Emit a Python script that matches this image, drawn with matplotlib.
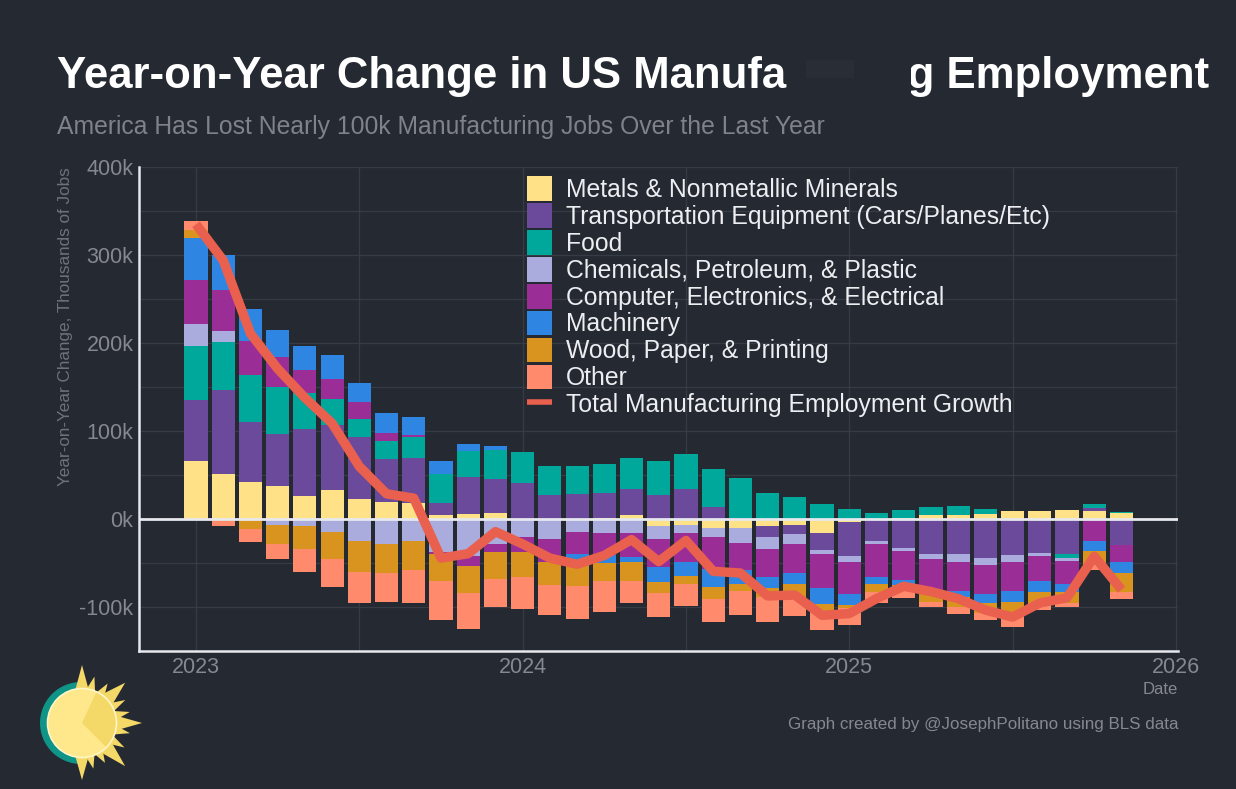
import matplotlib
matplotlib.use("Agg")
import matplotlib.pyplot as plt
import numpy as np
from matplotlib.patches import Patch, Circle, Polygon, Rectangle, Wedge
from matplotlib.lines import Line2D

plt.rcParams['font.family'] = ['Liberation Sans', 'DejaVu Sans']

W, H = 1236, 789
BG = '#252931'
GRID = '#373b43'
AXW = '#e6e8ee'
GRAY = '#85888e'
DIM = '#6f7278'

months = list(range(35))  # months since Jan 2023
year_ticks = [0, 12, 24, 36]
year_labels = ['2023', '2024', '2025', '2026']
y_ticks = [-100, 0, 100, 200, 300, 400]
y_labels = ['-100k', '0k', '100k', '200k', '300k', '400k']

metals = [66,52,42,38,27,33,23,20,18,5,6,7,0,0,0,2,5,-8,-7,-10,-10,-8,-7,-15,-3,0,2,5,5,6,9,9,11,9,7]
transport = [69,95,68,59,75,74,71,48,52,13,42,39,41,28,29,28,29,28,34,14,2,-12,-10,-20,-39,-25,-33,-39,-39,-44,-41,-38,-39,4,-29]
food = [62,54,54,53,41,30,20,21,23,34,30,33,35,33,32,33,36,38,40,43,45,30,25,17,12,7,9,9,10,6,0,0,-5,4,1]
chemicals = [25,13,0,-7,-8,-14,-25,-28,-25,-37,-42,-28,-20,-22,-14,-16,-15,-14,-9,-10,-17,-14,-11,-4,-7,-3,-3,-6,-9,-8,-7,-4,-3,0,0]
computer = [50,46,39,34,27,22,19,9,3,-2,-11,-9,-17,-26,-25,-25,-28,-32,-32,-36,-31,-31,-33,-39,-36,-37,-33,-39,-33,-33,-33,-28,-26,-25,-20]
machinery = [47,40,36,31,27,27,22,23,20,14,7,4,0,0,-7,-9,-6,-17,-16,-21,-15,-13,-12,-18,-12,-8,-6,0,-7,-10,-13,-12,-10,-11,-12]
wood = [9,-2,-11,-21,-26,-31,-35,-33,-33,-31,-31,-31,-28,-27,-30,-20,-21,-13,-9,-13,-8,-10,-15,-8,-4,-9,-5,-10,-11,-11,-16,-13,-12,-16,-21]
other = [11,-6,-15,-17,-26,-32,-35,-33,-37,-44,-40,-32,-37,-34,-37,-35,-25,-27,-25,-27,-28,-29,-22,-22,-19,-13,-9,-6,-8,-8,-12,-8,-5,-5,-8]
total = [335,294,211,171,138,109,60,29,24,-44,-39,-14,-28,-44,-51,-41,-23,-48,-24,-59,-61,-87,-86,-109,-107,-90,-76,-82,-90,-103,-111,-95,-89,-42,-80]

series = [
    ('Metals & Nonmetallic Minerals', metals, '#FFE187'),
    ('Transportation Equipment (Cars/Planes/Etc)', transport, '#6C4A9B'),
    ('Food', food, '#00A89B'),
    ('Chemicals, Petroleum, & Plastic', chemicals, '#A9ACDC'),
    ('Computer, Electronics, & Electrical', computer, '#9A2E96'),
    ('Machinery', machinery, '#2F86E2'),
    ('Wood, Paper, & Printing', wood, '#D9931F'),
    ('Other', other, '#FF8A6C'),
]
line_name = 'Total Manufacturing Employment Growth'
line_color = '#E9604F'

fig = plt.figure(figsize=(W / 100, H / 100), dpi=100, facecolor=BG)
L, R, T, B = 139, 1178, 167, 651
ax = fig.add_axes([L / W, 1 - B / H, (R - L) / W, (B - T) / H], facecolor=BG)
ax.set_xlim((L - 196) / 27.22, (R - 196) / 27.22)
ax.set_ylim(-149.5, 400)

ax.set_axisbelow(True)
ax.set_xticks(year_ticks)
ax.set_xticklabels(year_labels)
ax.set_yticks(y_ticks)
ax.set_yticklabels(y_labels)
ax.set_xticks([6, 18, 30], minor=True)
ax.set_yticks([-50, 50, 150, 250, 350], minor=True)
ax.grid(True, which='both', color=GRID, lw=0.9)
ax.tick_params(which='both', length=0, colors=GRAY, labelsize=15.5, pad=4)
ax.tick_params(axis='x', pad=4)
for s in ['top', 'right']:
    ax.spines[s].set_visible(False)
for s in ['left', 'bottom']:
    ax.spines[s].set_color(AXW)
    ax.spines[s].set_linewidth(1.8)

x = np.array(months)
pos = np.zeros(len(x))
neg = np.zeros(len(x))
for name, vals, col in series:
    v = np.array(vals, float)
    bottom = np.where(v >= 0, pos, neg)
    ax.bar(x, v, 0.85, bottom=bottom, color=col, linewidth=0, zorder=2)
    pos += np.where(v >= 0, v, 0)
    neg += np.where(v < 0, v, 0)

ax.axhline(0, color=AXW, lw=2.0, zorder=3)
ax.plot(x, total, color=line_color, lw=6.8, zorder=4, solid_joinstyle='round',
        solid_capstyle='butt')

handles = [Patch(facecolor=c, edgecolor='none') for _, _, c in series]
handles.append(Line2D([0], [0], color=line_color, lw=4, solid_capstyle='butt'))
labels = [n for n, _, _ in series] + [line_name]
leg = ax.legend(handles, labels, loc='upper left',
                bbox_to_anchor=((527 - L) / (R - L), (B - 176) / (B - T)),
                frameon=False, fontsize=17.8, labelcolor='#eceef2',
                handlelength=1.0, handleheight=1.16, handletextpad=0.57,
                labelspacing=0.05, borderpad=0, borderaxespad=0)

ax.set_ylabel('Year-on-Year Change, Thousands of Jobs', color=DIM, fontsize=12.3)
ax.yaxis.set_label_coords((73 - L) / (R - L), (B - 327) / (B - T))

ov = fig.add_axes([0, 0, 1, 1], facecolor='none', zorder=5)
ov.set_xlim(0, W)
ov.set_ylim(H, 0)
ov.axis('off')

ov.text(57, 76, 'Year-on-Year Change in US Manufacturing Employment', color='#ffffff',
        fontsize=31.5, fontweight='bold', va='center', ha='left')
ov.add_patch(Rectangle((787, 48), 124, 52, facecolor=BG, edgecolor='none', zorder=3))
ov.add_patch(Rectangle((806, 60), 48, 18, facecolor='#292d35', edgecolor='none', zorder=3))
ov.text(57, 127, 'America Has Lost Nearly 100k Manufacturing Jobs Over the Last Year',
        color='#7f8288', fontsize=17.8, va='center', ha='left')
ov.text(1178, 689, 'Date', color=GRAY, fontsize=12, va='center', ha='right')
ov.text(1178, 724, 'Graph created by @JosephPolitano using BLS data', color=GRAY,
        fontsize=12.25, va='center', ha='right')

# Logo
cx, cy = 82, 723
ov.add_patch(Wedge((cx - 1, cy), 41, 90, 270, facecolor='#0F9488', edgecolor='none', zorder=2))
spikes = [(0, 58, 7), (15, 48, 5), (33, 47, 5), (47, 59, 8), (62, 49, 5), (77, 49, 5),
          (90, 60, 8), (102, 49, 5), (120, 49, 5), (135, 61, 8), (150, 46, 5), (166, 47, 5),
          (180, 57, 7)]
for deg, ln, wd in spikes:
    a = np.radians(deg)
    d = np.array([np.sin(a), -np.cos(a)])
    n = np.array([d[1], -d[0]])
    c = np.array([cx, cy])
    ov.add_patch(Polygon([c + d * 32 + n * wd, c + d * ln, c + d * 32 - n * wd],
                         closed=True, facecolor='#F4D868', edgecolor='none', zorder=3))
ov.add_patch(Circle((cx, cy), 34.5, facecolor='#FFE78C', edgecolor='#fff6c8', lw=1.2, zorder=4))
ov.add_patch(Wedge((cx, cy), 33.5, -65, 45, facecolor='#F4D868', edgecolor='none', zorder=5))

fig.savefig('out.png', dpi=100, facecolor=BG)
